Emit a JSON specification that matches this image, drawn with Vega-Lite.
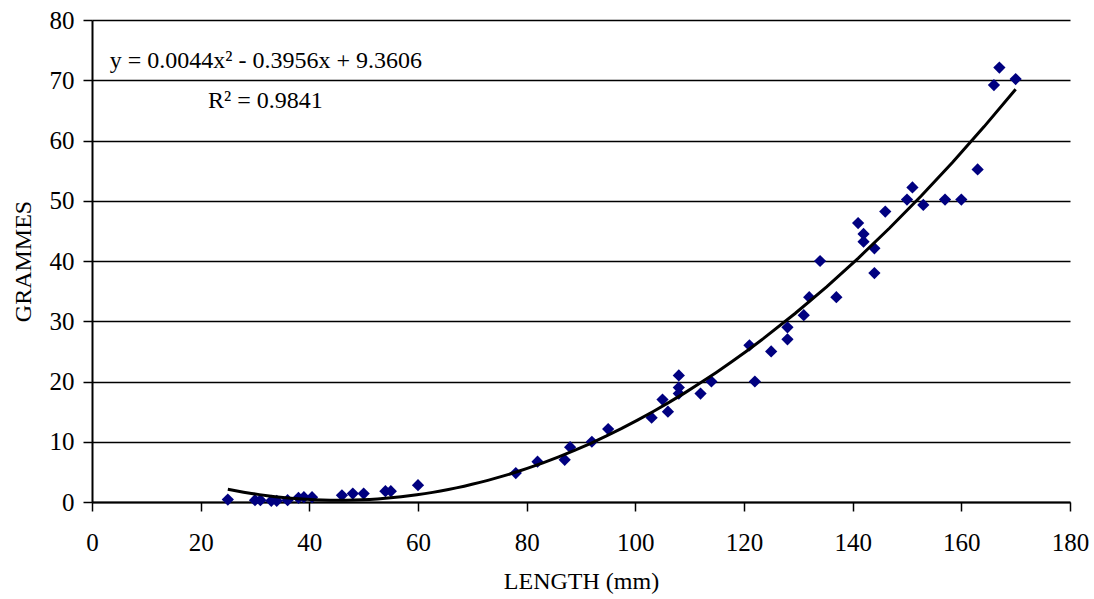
{
  "$schema": "https://vega.github.io/schema/vega-lite/v6.json",
  "width": 978,
  "height": 482,
  "autosize": "none",
  "padding": {"left": 92, "top": 20, "right": 24, "bottom": 97},
  "background": "white",
  "config": {
    "view": {"stroke": null},
    "font": "Liberation Serif",
    "axis": {
      "labelFont": "Liberation Serif",
      "titleFont": "Liberation Serif",
      "labelFontSize": 25,
      "titleFontSize": 24,
      "titleFontWeight": "normal",
      "labelColor": "black",
      "titleColor": "black",
      "domainColor": "black",
      "tickColor": "black",
      "domainWidth": 2,
      "tickWidth": 1.5,
      "tickSize": 9,
      "labelFlush": false,
      "labelOverlap": false
    }
  },
  "datasets": {
    "fish": [
      {"length": 25, "grams": 0.4},
      {"length": 30, "grams": 0.3},
      {"length": 31, "grams": 0.3},
      {"length": 33, "grams": 0.2},
      {"length": 34, "grams": 0.2},
      {"length": 36, "grams": 0.3},
      {"length": 38, "grams": 0.7},
      {"length": 39, "grams": 0.8},
      {"length": 40.5, "grams": 0.8},
      {"length": 46, "grams": 1.1},
      {"length": 48, "grams": 1.4},
      {"length": 50, "grams": 1.4},
      {"length": 54, "grams": 1.8},
      {"length": 55, "grams": 1.8},
      {"length": 60, "grams": 2.8},
      {"length": 78, "grams": 4.8},
      {"length": 82, "grams": 6.7},
      {"length": 87, "grams": 7.0},
      {"length": 88, "grams": 9.1},
      {"length": 92, "grams": 10.0},
      {"length": 95, "grams": 12.1},
      {"length": 103, "grams": 14.0},
      {"length": 105, "grams": 17.0},
      {"length": 106, "grams": 15.0},
      {"length": 108, "grams": 21.0},
      {"length": 108, "grams": 19.0},
      {"length": 108, "grams": 18.0},
      {"length": 112, "grams": 18.0},
      {"length": 114, "grams": 20.0},
      {"length": 121, "grams": 26.0},
      {"length": 122, "grams": 20.0},
      {"length": 125, "grams": 25.0},
      {"length": 128, "grams": 27.0},
      {"length": 128, "grams": 29.0},
      {"length": 131, "grams": 31.0},
      {"length": 132, "grams": 34.0},
      {"length": 134, "grams": 40.0},
      {"length": 137, "grams": 34.0},
      {"length": 141, "grams": 46.3},
      {"length": 142, "grams": 44.5},
      {"length": 142, "grams": 43.2},
      {"length": 144, "grams": 42.1},
      {"length": 144, "grams": 38.0},
      {"length": 146, "grams": 48.2},
      {"length": 150, "grams": 50.2},
      {"length": 151, "grams": 52.2},
      {"length": 153, "grams": 49.3},
      {"length": 157, "grams": 50.2},
      {"length": 160, "grams": 50.2},
      {"length": 163, "grams": 55.2},
      {"length": 166, "grams": 69.2},
      {"length": 167, "grams": 72.1},
      {"length": 170, "grams": 70.2}
    ],
    "labels": [
      {"length": 32, "grams": 73.2, "text": "y = 0.0044x² - 0.3956x + 9.3606"},
      {"length": 31.9, "grams": 66.6, "text": "R² = 0.9841"}
    ]
  },
  "encoding": {
    "x": {
      "field": "length",
      "type": "quantitative",
      "scale": {"domain": [0, 180], "nice": false, "zero": false},
      "axis": {
        "title": "LENGTH (mm)",
        "values": [0, 20, 40, 60, 80, 100, 120, 140, 160, 180],
        "grid": false,
        "labelPadding": 19,
        "titlePadding": 14,
        "domain": true
      }
    },
    "y": {
      "field": "grams",
      "type": "quantitative",
      "scale": {"domain": [0, 80], "nice": false, "zero": false},
      "axis": {
        "title": "GRAMMES",
        "values": [0, 10, 20, 30, 40, 50, 60, 70, 80],
        "grid": true,
        "gridColor": "black",
        "gridWidth": 1.5,
        "gridOpacity": 1,
        "labelPadding": 9,
        "titlePadding": 14
      }
    }
  },
  "layer": [
    {
      "data": {"name": "fish"},
      "mark": {"type": "point", "shape": "diamond", "filled": true, "color": "#000080", "size": 150, "opacity": 1}
    },
    {
      "data": {"name": "fish"},
      "transform": [
        {"regression": "grams", "on": "length", "method": "poly", "order": 2, "extent": [25, 170]}
      ],
      "mark": {"type": "line", "color": "black", "strokeWidth": 3}
    },
    {
      "data": {"name": "labels"},
      "mark": {"type": "text", "font": "Liberation Serif", "fontSize": 24, "color": "black", "align": "center", "baseline": "middle"},
      "encoding": {"text": {"field": "text"}}
    }
  ]
}
